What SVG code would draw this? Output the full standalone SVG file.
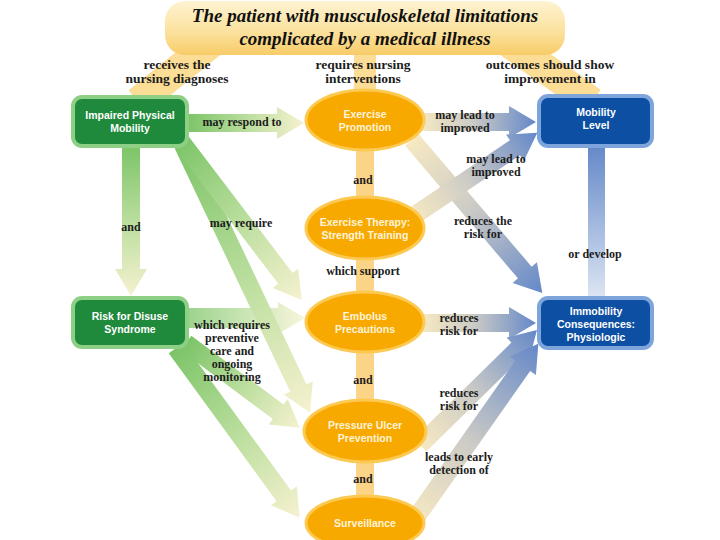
<svg xmlns="http://www.w3.org/2000/svg" width="720" height="540" viewBox="0 0 720 540">
<defs>
<linearGradient id="titleG" x1="0" y1="0" x2="0" y2="1">
<stop offset="0" stop-color="#fef3d2"/>
<stop offset="0.6" stop-color="#fbe09a"/>
<stop offset="1" stop-color="#f8cc68"/>
</linearGradient>
<linearGradient id="greenG" x1="0" y1="0" x2="1" y2="0">
<stop offset="0" stop-color="#7cc468"/>
<stop offset="0.55" stop-color="#c0e0a2"/>
<stop offset="1" stop-color="#f6f1d0"/>
</linearGradient>
<linearGradient id="blueG" x1="0" y1="0" x2="1" y2="0">
<stop offset="0" stop-color="#f6e9c2"/>
<stop offset="0.45" stop-color="#cccbc6"/>
<stop offset="1" stop-color="#6488c8"/>
</linearGradient>
<linearGradient id="blueV" x1="0" y1="0" x2="0" y2="1">
<stop offset="0" stop-color="#6488c8"/>
<stop offset="1" stop-color="#dde6f3"/>
</linearGradient>
<style>
.lbl{font-family:"Liberation Serif","Times New Roman",serif;font-weight:bold;font-size:12px;fill:#1c1c1c;text-anchor:middle}
.top{font-size:13.5px}
.ttl{font-family:"Liberation Serif","Times New Roman",serif;font-weight:bold;font-style:italic;font-size:19px;fill:#111;text-anchor:middle}
.nt{font-family:"Liberation Sans",Arial,sans-serif;font-weight:bold;font-size:10.5px;fill:#ffffff;text-anchor:middle}
.et{font-family:"Liberation Sans",Arial,sans-serif;font-weight:bold;font-size:10.5px;fill:#fff4da;text-anchor:middle}
.gr{fill:#1f8a3c;stroke:#8ecf86;stroke-width:4}
.bl{fill:#0c4fa3;stroke:#7ea5db;stroke-width:4}
.el{fill:#f8a900;stroke:#fcc952;stroke-width:3}
.band{stroke:#fcdd95;fill:none}
.ga{fill:url(#greenG)}
.ba{fill:url(#blueG)}
.ob{fill:#fcd487}
</style>
</defs>
<rect width="720" height="540" fill="#ffffff"/>
<g id="title">
<line class="band" x1="215" y1="40" x2="138" y2="102" stroke-width="30"/>
<line class="band" x1="365" y1="45" x2="365" y2="96" stroke-width="22"/>
<line class="band" x1="505" y1="40" x2="592" y2="102" stroke-width="30"/>
<rect x="165" y="1" width="400" height="54" rx="20" fill="url(#titleG)"/>
<text class="ttl" x="365" y="22">The patient with musculoskeletal limitations</text>
<text class="ttl" x="365" y="45">complicated by a medical illness</text>
</g>
<g id="connectors">
<rect class="ob" x="356" y="145" width="18" height="56"/>
<rect class="ob" x="356" y="255" width="18" height="42"/>
<rect class="ob" x="356" y="348" width="18" height="56"/>
<rect class="ob" x="356" y="458" width="18" height="42"/>
<rect x="588" y="145" width="17" height="154" fill="url(#blueV)"/>
<polygon class="ga" transform="translate(188,123)" points="0,-9 89,-9 89,-16 116,0 89,16 89,9 0,9"/>
<polygon class="ga" transform="translate(131,146) rotate(90)" points="0,-9 123,-9 123,-16 150,0 123,16 123,9 0,9"/>
<polygon class="ga" transform="translate(188,318)" points="0,-10 90,-10 90,-16 117,0 90,16 90,10 0,10" opacity="0.75"/>
<polygon class="ga" transform="translate(183,145) rotate(64.6)" points="0,-9 269,-9 269,-16 296,0 269,16 269,9 0,9"/>
<polygon class="ga" transform="translate(180,140) rotate(52.7)" points="0,-9 174,-9 174,-16 201,0 174,16 174,9 0,9"/>
<polygon class="ga" transform="translate(186,343) rotate(36.7)" points="0,-9 115,-9 115,-16 142,0 115,16 115,9 0,9"/>
<polygon class="ga" transform="translate(176,348) rotate(53.9)" points="0,-9 183,-9 183,-16 210,0 183,16 183,9 0,9"/>
<polygon class="ba" transform="translate(420,122)" points="0,-9 89,-9 89,-16 116,0 89,16 89,9 0,9"/>
<polygon class="ba" transform="translate(412,140) rotate(49.6)" points="0,-9 174,-9 174,-16 201,0 174,16 174,9 0,9"/>
<polygon class="ba" transform="translate(412,217) rotate(-33.9)" points="0,-9 124,-9 124,-16 151,0 124,16 124,9 0,9"/>
<polygon class="ba" transform="translate(422,323)" points="0,-9 87,-9 87,-16 114,0 87,16 87,9 0,9"/>
<polygon class="ba" transform="translate(420,445) rotate(-44.5)" points="0,-9 137,-9 137,-16 164,0 137,16 137,9 0,9"/>
<polygon class="ba" transform="translate(413,522) rotate(-54.9)" points="0,-9 191,-9 191,-16 218,0 191,16 191,9 0,9"/>
</g>
<g id="impaired"><rect class="gr" x="73" y="97" width="114" height="49" rx="9"/><text class="nt" x="130" y="119">Impaired Physical</text><text class="nt" x="130" y="132">Mobility</text></g>
<g id="risk"><rect class="gr" x="73" y="298" width="114" height="49" rx="9"/><text class="nt" x="130" y="320">Risk for Disuse</text><text class="nt" x="130" y="333">Syndrome</text></g>
<g id="mobility"><rect class="bl" x="539" y="96" width="113" height="50" rx="9"/><text class="nt" x="596" y="116">Mobility</text><text class="nt" x="596" y="129">Level</text></g>
<g id="immobility"><rect class="bl" x="539" y="298" width="113" height="50" rx="9"/><text class="nt" x="596" y="315">Immobility</text><text class="nt" x="596" y="328">Consequences:</text><text class="nt" x="596" y="341">Physiologic</text></g>
<g id="exercise"><ellipse class="el" cx="365" cy="120" rx="59" ry="30"/><text class="et" x="365" y="118">Exercise</text><text class="et" x="365" y="131">Promotion</text></g>
<g id="therapy"><ellipse class="el" cx="365" cy="228" rx="59" ry="31"/><text class="et" x="365" y="226">Exercise Therapy:</text><text class="et" x="365" y="239">Strength Training</text></g>
<g id="embolus"><ellipse class="el" cx="365" cy="322" rx="59" ry="30"/><text class="et" x="365" y="320">Embolus</text><text class="et" x="365" y="333">Precautions</text></g>
<g id="ulcer"><ellipse class="el" cx="365" cy="431" rx="61" ry="31"/><text class="et" x="365" y="429">Pressure Ulcer</text><text class="et" x="365" y="442">Prevention</text></g>
<g id="surveillance"><ellipse class="el" cx="365" cy="523" rx="59" ry="27"/><text class="et" x="365" y="527">Surveillance</text></g>
<g id="labels">
<text class="lbl top" x="177" y="69">receives the</text><text class="lbl top" x="177" y="83">nursing diagnoses</text>
<text class="lbl top" x="363" y="69">requires nursing</text><text class="lbl top" x="363" y="83">interventions</text>
<text class="lbl top" x="550" y="69">outcomes should show</text><text class="lbl top" x="550" y="83">improvement in</text>
<text class="lbl" x="242" y="126">may respond to</text>
<text class="lbl" x="465" y="119">may lead to</text><text class="lbl" x="465" y="132">improved</text>
<text class="lbl" x="496" y="163">may lead to</text><text class="lbl" x="496" y="176">improved</text>
<text class="lbl" x="363" y="184">and</text>
<text class="lbl" x="131" y="231">and</text>
<text class="lbl" x="241" y="227">may require</text>
<text class="lbl" x="483" y="225">reduces the</text><text class="lbl" x="483" y="238">risk for</text>
<text class="lbl" x="363" y="275">which support</text>
<text class="lbl" x="595" y="258">or develop</text>
<text class="lbl" x="232" y="329">which requires</text><text class="lbl" x="232" y="342">preventive</text><text class="lbl" x="232" y="355">care and</text><text class="lbl" x="232" y="368">ongoing</text><text class="lbl" x="232" y="381">monitoring</text>
<text class="lbl" x="459" y="322">reduces</text><text class="lbl" x="459" y="335">risk for</text>
<text class="lbl" x="363" y="384">and</text>
<text class="lbl" x="459" y="397">reduces</text><text class="lbl" x="459" y="410">risk for</text>
<text class="lbl" x="459" y="461">leads to early</text><text class="lbl" x="459" y="474">detection of</text>
<text class="lbl" x="363" y="483">and</text>
</g>
</svg>
